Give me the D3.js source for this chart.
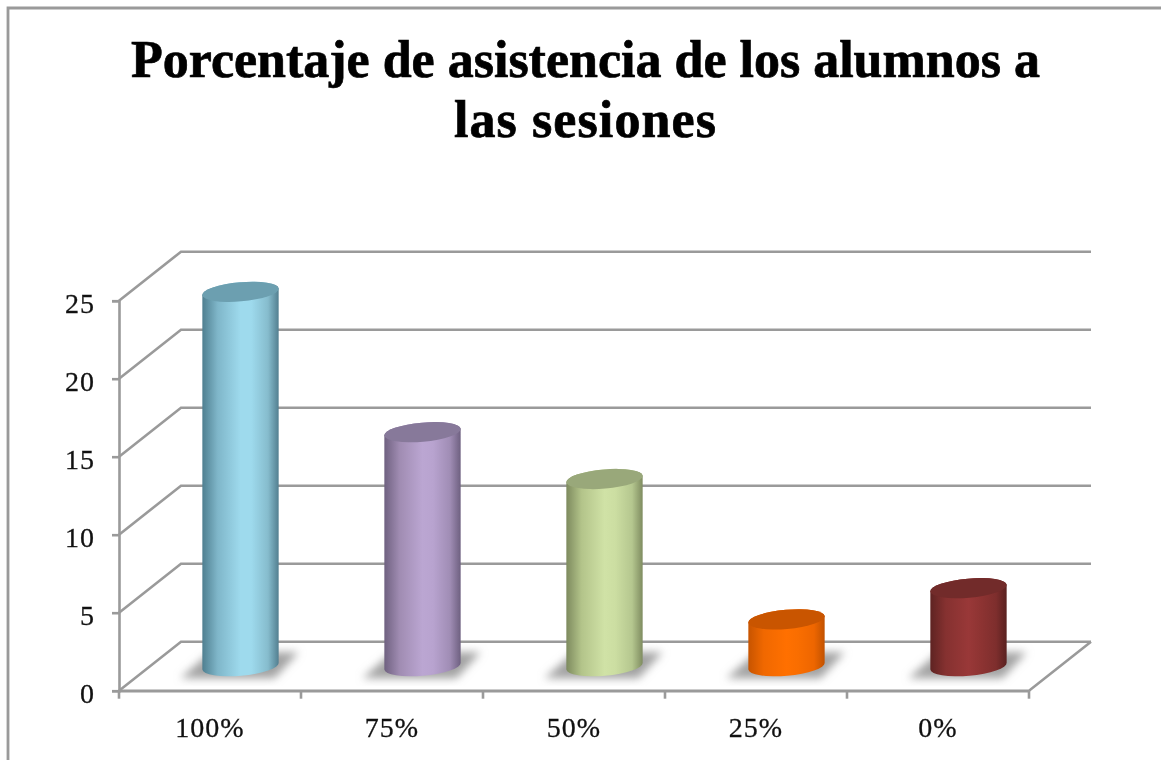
<!DOCTYPE html>
<html><head><meta charset="utf-8">
<script src="https://cdn.jsdelivr.net/npm/d3@7"></script>
<style>html,body{margin:0;padding:0;background:#fff;overflow:hidden}svg{display:block;filter:blur(0.5px)}text{font-family:"Liberation Serif",serif;fill:#111}</style>
</head><body><svg id="c" width="1161" height="760"></svg>
<script>
const categories=["100%","75%","50%","25%","0%"];
const values=[24,15,12,3,5];
const yTicks=[0,5,10,15,20,25];
const titleLines=["Porcentaje de asistencia de los alumnos a","las sesiones"];
const sideColors=[["#4f7f90","#7fb6c9","#9edaed","#9edaed","#86bccd","#537f90"],["#6f6180","#a08cb2","#bba6d2","#b8a3cf","#a08db5","#6e6080"],["#7d8a5e","#b3c48a","#d0e2a6","#ccdea2","#b5c78f","#7f8c60"],["#c75400","#f06800","#ff7000","#fa6e00","#ee6600","#c25200"],["#5e2322","#853130","#993838","#8f3433","#7e2e2d","#5a2120"]];
const topColors=["#6c9fb0","#87799a","#99a87a","#c95500","#722b2a"];
const stopOffsets=[0,.2,.5,.64,.86,1];

const svg=d3.select("#c");
const x=d3.scaleBand().domain(categories).range([119,1029]);
const y=d3.scaleLinear().domain([0,25]).range([690.7,300.7]);
const dx=62,dy=-49,grid="#9a9a9a";
const defs=svg.append("defs");
defs.append("filter").attr("id","bl").attr("x","-30%").attr("y","-30%").attr("width","160%").attr("height","160%")
  .append("feGaussianBlur").attr("stdDeviation",4);
categories.forEach((c,i)=>{
  const g=defs.append("linearGradient").attr("id","g"+i);
  stopOffsets.forEach((o,k)=>g.append("stop").attr("offset",o).attr("stop-color",sideColors[i][k]));
});
// frame
svg.append("path").attr("d","M8,760V8H1161").attr("fill","none").attr("stroke",grid).attr("stroke-width",2.8);
// title
svg.selectAll(".t").data(titleLines).join("text").attr("class","t")
  .attr("x",585.5).attr("y",(d,i)=>77+i*60).attr("text-anchor","middle")
  .attr("font-size",52).attr("font-weight","bold").style("letter-spacing",(d,i)=>i?"1.1px":"0").style("fill","#000").style("stroke","#000").style("stroke-width",0.7).text(d=>d);
// back gridlines and left wall diagonals
svg.selectAll(".gl").data(yTicks).join("path").attr("class","gl")
  .attr("d",d=>`M${x.range()[0]},${y(d)}l${dx},${dy}H${x.range()[1]+dx}`)
  .attr("fill","none").attr("stroke",grid).attr("stroke-width",2.6);
// floor front & right
svg.append("path").attr("d",`M${x.range()[0]},${y(0)}H${x.range()[1]}l${dx},${dy}`).attr("fill","none").attr("stroke",grid).attr("stroke-width",2.6);
// axes
const ya=svg.append("g").attr("transform",`translate(${x.range()[0]},0)`).call(d3.axisLeft(y).tickValues(yTicks).tickSize(7).tickPadding(17));
const xa=svg.append("g").attr("transform",`translate(0,${y(0)})`).call(d3.axisBottom(x).tickSize(0).tickPadding(26));
xa.selectAll("text").attr("font-size",28).attr("dy",20).style("letter-spacing","1px").style("stroke","#111").style("stroke-width",0.3);
ya.selectAll("text").attr("font-size",28).attr("dy","0.42em").style("letter-spacing","1px").style("stroke","#111").style("stroke-width",0.3);
[ya,xa].forEach(a=>{a.select(".domain").attr("stroke",grid).attr("stroke-width",2.6);a.selectAll("line").attr("stroke",grid).attr("stroke-width",2.6);});
svg.selectAll(".xt").data(d3.range(categories.length+1)).join("line").attr("class","xt")
  .attr("x1",i=>x.range()[0]+i*x.step()).attr("x2",i=>x.range()[0]+i*x.step())
  .attr("y1",y(0)).attr("y2",y(0)+8).attr("stroke",grid).attr("stroke-width",2.6);
// cylinders
const rx=38.3,ry=9.6,tilt=-5;
const rad=tilt*Math.PI/180,ex=rx*Math.cos(rad),ey=rx*Math.sin(rad);
const baseY=y(0)+dy/2;
const cx=c=>x(c)+x.bandwidth()/2+dx/2-0.5;
const bars=svg.selectAll(".bar").data(categories.map((c,i)=>({c,i,v:values[i]}))).join("g").attr("class","bar");
bars.append("path").attr("filter","url(#bl)").attr("fill","#a2a2a2")
  .attr("d",d=>{const c=cx(d.c),b=baseY;return `M${c-60},${b+12}L${c-30},${b-14}H${c+58}L${c+34},${b+12}Z`;});
bars.append("path").attr("fill",d=>`url(#g${d.i})`)
  .attr("d",d=>{const c=cx(d.c),t=y(d.v)+dy/2;
    return `M${c-ex},${t-ey}L${c-ex},${baseY-ey}A${rx},${ry} ${tilt} 0 0 ${c+ex},${baseY+ey}L${c+ex},${t+ey}A${rx},${ry} ${tilt} 0 0 ${c-ex},${t-ey}Z`;});
bars.append("ellipse").attr("fill",d=>topColors[d.i])
  .attr("rx",rx).attr("ry",ry)
  .attr("transform",d=>`translate(${cx(d.c)},${y(d.v)+dy/2}) rotate(${tilt})`);
</script></body></html>
